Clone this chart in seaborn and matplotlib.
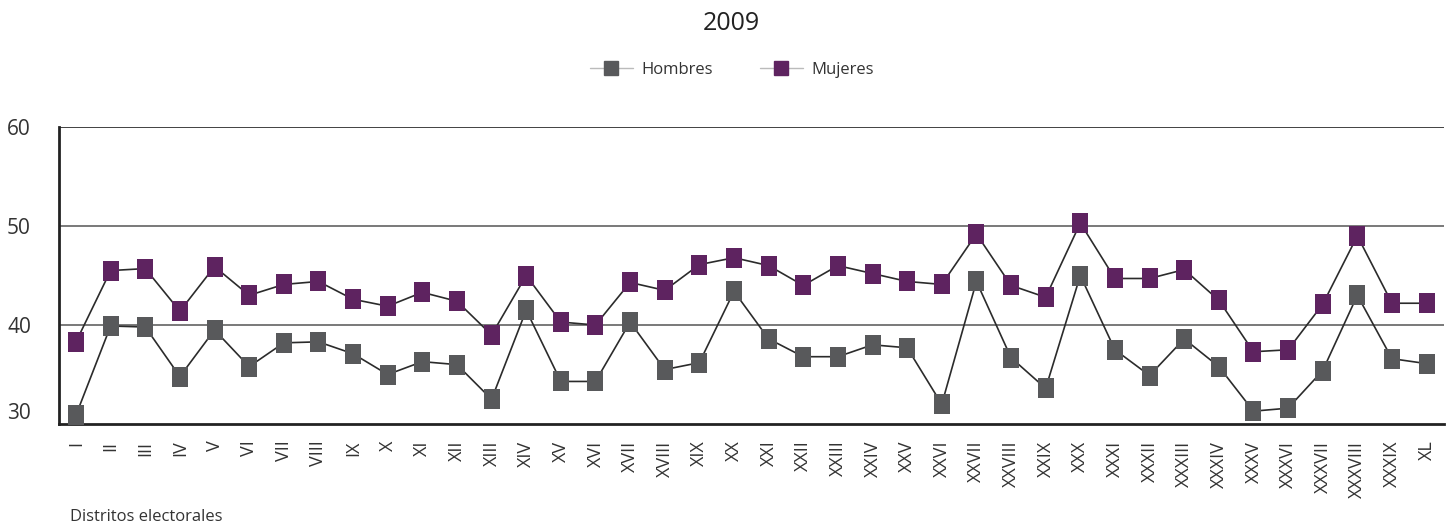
import matplotlib
matplotlib.use("Agg")
import matplotlib.pyplot as plt
from matplotlib.lines import Line2D
import seaborn as sns
import pandas as pd

distritos = ["I", "II", "III", "IV", "V", "VI", "VII", "VIII", "IX", "X",
             "XI", "XII", "XIII", "XIV", "XV", "XVI", "XVII", "XVIII", "XIX", "XX",
             "XXI", "XXII", "XXIII", "XXIV", "XXV", "XXVI", "XXVII", "XXVIII", "XXIX", "XXX",
             "XXXI", "XXXII", "XXXIII", "XXXIV", "XXXV", "XXXVI", "XXXVII", "XXXVIII", "XXXIX", "XL"]
hombres = [30.9, 39.9, 39.8, 34.8, 39.5, 35.8, 38.2, 38.3, 37.1, 35.0,
           36.3, 36.0, 32.5, 41.5, 34.3, 34.3, 40.3, 35.5, 36.2, 43.4,
           38.6, 36.8, 36.8, 38.0, 37.7, 32.0, 44.4, 36.7, 33.6, 45.0,
           37.5, 34.9, 38.6, 35.8, 31.3, 31.6, 35.4, 43.0, 36.6, 36.1]
mujeres = [38.3, 45.5, 45.7, 41.4, 45.9, 43.0, 44.1, 44.4, 42.6, 41.9,
           43.3, 42.4, 39.0, 45.0, 40.3, 40.0, 44.3, 43.5, 46.1, 46.8,
           46.0, 44.0, 46.0, 45.2, 44.4, 44.1, 49.2, 44.0, 42.8, 50.3,
           44.7, 44.7, 45.6, 42.5, 37.3, 37.5, 42.1, 49.0, 42.2, 42.2]
yticks = [30, 40, 50, 60]

C_H = "#58595b"
C_M = "#5e2360"
TXT = "#333333"

sns.set_theme(style="white")
plt.rcParams["font.family"] = ["Open Sans", "DejaVu Sans"]

fig = plt.figure(figsize=(14.49, 5.27), dpi=100)
ax = fig.add_axes([0.0405, 0.1954, 0.956, 0.5636])

df = pd.DataFrame({"distrito": distritos, "Hombres": hombres, "Mujeres": mujeres})
rect = [(-0.4, -0.5), (0.4, -0.5), (0.4, 0.5), (-0.4, 0.5), (-0.4, -0.5)]

for col, c in [("Hombres", C_H), ("Mujeres", C_M)]:
    sns.lineplot(data=df, x="distrito", y=col, ax=ax, sort=False, color="#2b2b2b",
                 linewidth=1.2, marker=rect, markersize=15, markerfacecolor=c,
                 markeredgecolor=c, markeredgewidth=0, clip_on=False, zorder=3)

ax.set_xlim(-0.5, len(distritos) - 0.5)
ax.set_ylim(30, 60)
ax.set_yticks(yticks)
ax.set_yticklabels([str(v) for v in yticks], fontsize=15, color=TXT)
ax.get_yticklabels()[0].set_va("bottom")
ax.set_xticks(range(len(distritos)))
ax.set_xticklabels(distritos, rotation=90, fontsize=13, color=TXT, va="top", ha="center")
ax.tick_params(axis="x", direction="in", length=5, width=1.5, color="#222222", pad=12)
ax.tick_params(axis="y", length=0, pad=20)
ax.set_xlabel("")
ax.set_ylabel("")

for v in [40, 50]:
    ax.axhline(v, color="#555555", linewidth=1.1, zorder=1)
ax.axhline(60, color="#333333", linewidth=1.3, zorder=1)

ax.spines["right"].set_visible(False)
ax.spines["top"].set_visible(False)
for s in ["left", "bottom"]:
    ax.spines[s].set_color("#222222")
    ax.spines[s].set_linewidth(2)

fig.text(0.505, 0.955, "2009", ha="center", va="center", fontsize=18, color="#222222")

handles = [Line2D([0], [0], color="#bbbbbb", linewidth=1, marker="s", markersize=10,
                  markerfacecolor=C_H, markeredgecolor=C_H),
           Line2D([0], [0], color="#bbbbbb", linewidth=1, marker="s", markersize=10,
                  markerfacecolor=C_M, markeredgecolor=C_M)]
fig.legend(handles, ["Hombres", "Mujeres"], loc="center", bbox_to_anchor=(0.505, 0.868),
           ncol=2, frameon=False, fontsize=12, handlelength=2.6, handletextpad=0.5,
           columnspacing=2.8, labelcolor=TXT)

fig.text(0.048, 0.003, "Distritos electorales", ha="left", va="bottom", fontsize=12, color=TXT)

fig.savefig("out.png", dpi=100)
